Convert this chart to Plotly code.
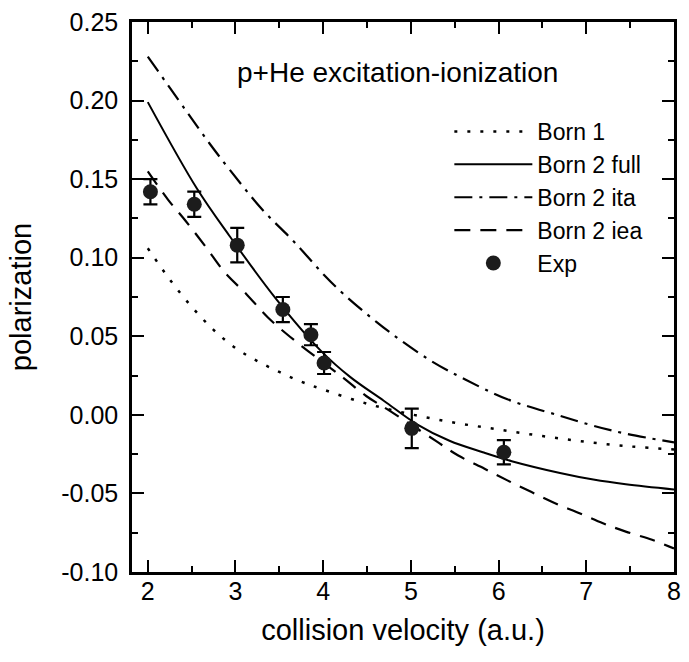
import plotly.graph_objects as go

# ---- data ----
born1_x = [2.0, 2.25, 2.5, 2.75, 3.0, 3.25, 3.5, 3.75, 4.0, 4.5, 5.0, 5.5, 6.0, 6.5, 7.0, 7.5, 8.0]
born1_y = [0.106, 0.0862, 0.0688, 0.0541, 0.0425, 0.0342, 0.0273, 0.0211, 0.0161, 0.0071, 0.0004,
           -0.0050, -0.0093, -0.0135, -0.0172, -0.0201, -0.0220]

full_x = [2.0, 2.56, 2.93, 3.46, 3.98, 4.31, 4.69, 5.07, 5.44, 5.82, 6.15, 6.70, 7.08, 7.45, 8.0]
full_y = [0.199, 0.144, 0.114, 0.074, 0.0404, 0.0240, 0.0090, -0.0060, -0.0165, -0.0238, -0.0295,
          -0.0370, -0.0412, -0.0442, -0.0475]

ita_x = [2.0, 2.43, 2.70, 2.92, 3.30, 3.67, 4.01, 4.23, 4.61, 4.87, 5.24, 5.62, 6.10, 6.70, 7.08, 7.45, 8.0]
ita_y = [0.228, 0.194, 0.173, 0.157, 0.131, 0.110, 0.089, 0.077, 0.059, 0.048, 0.034, 0.0225, 0.0099,
         -0.0006, -0.0069, -0.0120, -0.0175]

iea_x = [2.0, 2.23, 2.43, 2.66, 2.88, 3.13, 3.37, 3.67, 4.23, 4.49, 4.76, 5.28, 5.54, 5.84, 6.10, 6.37,
         6.65, 6.93, 7.19, 7.45, 7.75, 8.0]
iea_y = [0.155, 0.137, 0.1235, 0.107, 0.0905, 0.0765, 0.062, 0.0475, 0.0236, 0.012, 0.0025, -0.0164,
         -0.0259, -0.0343, -0.0417, -0.049, -0.0564, -0.0627, -0.069, -0.0743, -0.0795, -0.085]

exp_x = [2.03, 2.53, 3.02, 3.54, 3.86, 4.01, 5.01, 6.06]
exp_y = [0.142, 0.134, 0.108, 0.067, 0.051, 0.033, -0.0086, -0.0238]
exp_err = [0.008, 0.008, 0.011, 0.008, 0.0067, 0.007, 0.0126, 0.0077]

x_tick_vals = [2, 3, 4, 5, 6, 7, 8]
x_tick_text = ["2", "3", "4", "5", "6", "7", "8"]
y_tick_vals = [-0.10, -0.05, 0.00, 0.05, 0.10, 0.15, 0.20, 0.25]
y_tick_text = ["-0.10", "-0.05", "0.00", "0.05", "0.10", "0.15", "0.20", "0.25"]

FONT = "Liberation Sans, Arial, sans-serif"
BLACK = "#000000"

fig = go.Figure()
fig.add_trace(go.Scatter(x=born1_x, y=born1_y, mode="lines", name="Born 1",
                         line=dict(color=BLACK, width=2.5, dash="3px,10px", shape="spline")))
fig.add_trace(go.Scatter(x=full_x, y=full_y, mode="lines", name="Born 2 full",
                         line=dict(color=BLACK, width=2, shape="spline")))
fig.add_trace(go.Scatter(x=ita_x, y=ita_y, mode="lines", name="Born 2 ita",
                         line=dict(color=BLACK, width=2.2, dash="18px,7px,3px,7px", shape="spline")))
fig.add_trace(go.Scatter(x=iea_x, y=iea_y, mode="lines", name="Born 2 iea",
                         line=dict(color=BLACK, width=2.2, dash="16px,10px", shape="spline")))
fig.add_trace(go.Scatter(x=exp_x, y=exp_y, mode="markers", name="Exp",
                         marker=dict(color="#1c1c1c", size=15, line=dict(width=0)),
                         error_y=dict(type="data", array=exp_err, visible=True, color=BLACK,
                                      thickness=2.2, width=7)))

axis_common = dict(
    showline=True, linecolor=BLACK, linewidth=2.5, mirror="allticks",
    ticks="inside", ticklen=12, tickwidth=2, tickcolor=BLACK,
    showgrid=False, zeroline=False,
    tickfont=dict(family=FONT, size=25, color=BLACK),
)

fig.update_xaxes(range=[1.82, 8.0], tickvals=x_tick_vals, ticktext=x_tick_text,
                 minor=dict(dtick=0.5, tick0=2, ticks="inside", ticklen=6, tickwidth=2, tickcolor=BLACK),
                 title=dict(text="collision velocity (a.u.)", font=dict(family=FONT, size=29, color=BLACK),
                            standoff=16),
                 ticklabelstandoff=-5,
                 **axis_common)
fig.update_yaxes(range=[-0.10, 0.25], tickvals=y_tick_vals, ticktext=y_tick_text,
                 minor=dict(dtick=0.025, tick0=0, ticks="inside", ticklen=6, tickwidth=2, tickcolor=BLACK),
                 title=dict(text="polarization", font=dict(family=FONT, size=29, color=BLACK),
                            standoff=22),
                 ticklabelstandoff=6,
                 **axis_common)

fig.add_annotation(x=4.85, y=0.218, xref="x", yref="y", text="p+He excitation-ionization",
                   showarrow=False, font=dict(family=FONT, size=28, color=BLACK))

fig.update_layout(
    width=689, height=662,
    margin=dict(l=132, r=8, t=18, b=90),
    paper_bgcolor="white", plot_bgcolor="white",
    showlegend=True,
    legend=dict(x=0.5855, y=0.84, xanchor="left", yanchor="top", bgcolor="rgba(0,0,0,0)",
                font=dict(family=FONT, size=23, color=BLACK), itemwidth=78, tracegroupgap=0),
)

fig.write_html("out.html")
